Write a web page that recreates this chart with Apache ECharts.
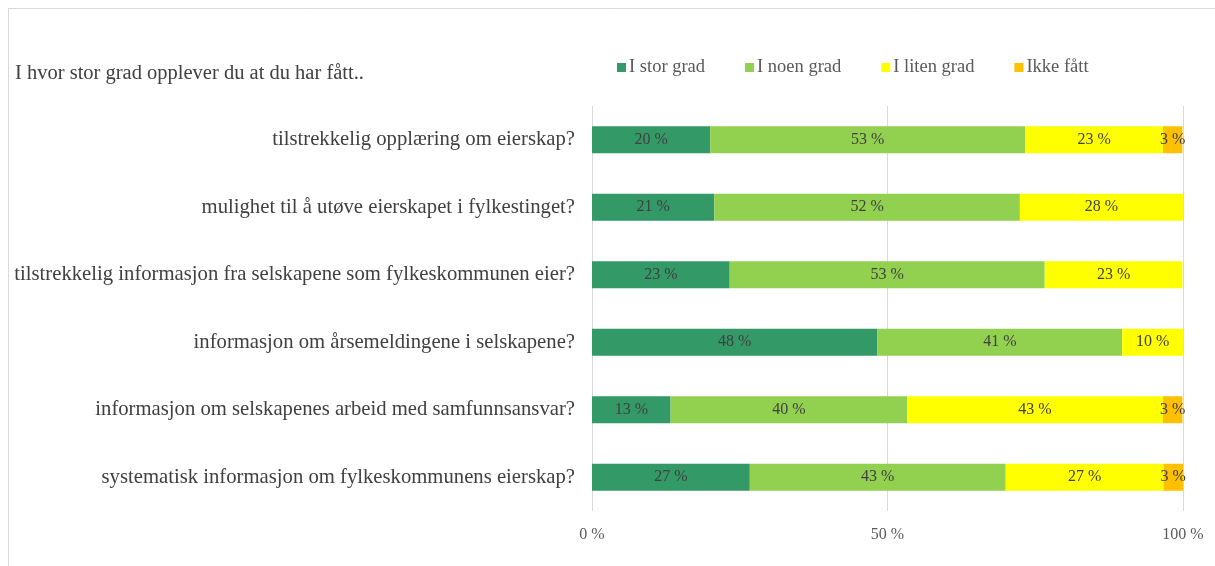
<!DOCTYPE html>
<html>
<head>
<meta charset="utf-8">
<script src="https://cdn.jsdelivr.net/npm/echarts@6/dist/echarts.min.js"></script>
<style>
html,body{margin:0;padding:0;background:#fff;}
#main{width:1215px;height:566px;}
</style>
</head>
<body>
<div id="main"></div>
<script>
var questions = [
	'tilstrekkelig opplæring om eierskap?',
	'mulighet til å utøve eierskapet i fylkestinget?',
	'tilstrekkelig informasjon fra selskapene som fylkeskommunen eier?',
	'informasjon om årsemeldingene i selskapene?',
	'informasjon om selskapenes arbeid med samfunnsansvar?',
	'systematisk informasjon om fylkeskommunens eierskap?'
];
var seriesNames = ['I stor grad', 'I noen grad', 'I liten grad', 'Ikke fått'];
var storGrad  = [20.0, 20.7, 23.3, 48.3, 13.3, 26.7];
var noenGrad  = [53.3, 51.7, 53.3, 41.4, 40.0, 43.3];
var litenGrad = [23.3, 27.6, 23.3, 10.3, 43.3, 26.7];
var ikkeFatt  = [3.3, 0, 0, 0, 3.3, 3.3];
var xTicks = [0, 50, 100];

var colors = ['#339966', '#92d050', '#ffff00', '#ffc000'];
var font = '"Liberation Serif", "DejaVu Serif", serif';

function makeSeries(name, data, color){
	return {
		name: name,
		type: 'bar',
		stack: 'total',
		barWidth: 27,
		data: data,
		itemStyle: {color: color},
		label: {
			show: true,
			position: 'inside',
			color: '#404040',
			fontFamily: font,
			fontSize: 16,
			formatter: function(p){
				return p.value > 0.5 ? Math.round(p.value) + ' %' : '';
			}
		},
		emphasis: {disabled: true}
	};
}

var chart = echarts.init(document.getElementById('main'));
var option = {
	animation: false,
	backgroundColor: '#ffffff',
	textStyle: {fontFamily: font},
	title: {
		text: 'I hvor stor grad opplever du at du har fått..',
		left: 10,
		top: 58,
		textStyle: {fontFamily: font, fontSize: 20.5, fontWeight: 'normal', color: '#404040'}
	},
	legend: {
		top: 53,
		left: 612,
		itemWidth: 9,
		itemHeight: 9,
		itemGap: 40,
		icon: 'rect',
		textStyle: {fontFamily: font, fontSize: 18.5, color: '#595959', padding: [0, 0, 0, -2]},
		data: seriesNames
	},
	grid: {left: 592, right: 32, top: 106, bottom: 55, containLabel: false},
	xAxis: {
		type: 'value',
		min: 0,
		max: 100,
		interval: 50,
		axisLine: {show: false},
		axisTick: {show: false},
		splitLine: {lineStyle: {color: '#d9d9d9', width: 1}},
		axisLabel: {
			color: '#595959',
			fontFamily: font,
			fontSize: 16,
			margin: 16,
			formatter: function(v){ return xTicks.indexOf(v) >= 0 ? v + ' %' : ''; }
		}
	},
	yAxis: {
		type: 'category',
		inverse: true,
		data: questions,
		axisLine: {show: false},
		axisTick: {show: false},
		axisLabel: {color: '#404040', fontFamily: font, fontSize: 20.7, margin: 17}
	},
	graphic: [
		{type: 'line', shape: {x1: 8, y1: 8.5, x2: 1215, y2: 8.5}, style: {stroke: '#d9d9d9', lineWidth: 1}},
		{type: 'line', shape: {x1: 8.5, y1: 8, x2: 8.5, y2: 566}, style: {stroke: '#d9d9d9', lineWidth: 1}}
	],
	series: [
		makeSeries(seriesNames[0], storGrad, colors[0]),
		makeSeries(seriesNames[1], noenGrad, colors[1]),
		makeSeries(seriesNames[2], litenGrad, colors[2]),
		makeSeries(seriesNames[3], ikkeFatt, colors[3])
	]
};
chart.setOption(option);
</script>
</body>
</html>
